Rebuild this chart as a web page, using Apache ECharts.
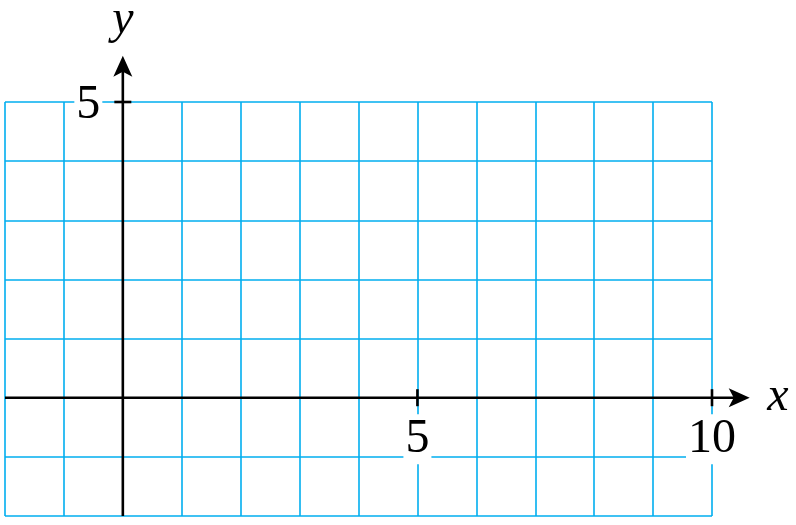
<!DOCTYPE html>
<html>
<head>
<meta charset="utf-8">
<style>html,body{margin:0;padding:0;background:#fff;}#c{width:796px;height:525px;}</style>
<script src="https://cdn.jsdelivr.net/npm/echarts@6/dist/echarts.min.js"></script>
</head>
<body>
<div id="c"></div>
<script>
// Axis ranges
const xRange = [-2, 10];
const yRange = [-2, 5];
// Drawn axes: start point and arrow tip (beyond the grid)
const axisStarts = [[-2, 0], [0, -2]];
const axisTips = [[10.64, 0], [0, 5.78]];
// Axis names
const axisNameText = ['x', 'y'];
const axisNamePos = [[11.12, 0], [0, 6.38]];
// Labelled tick values
const xTickValues = [5, 10];
const yTickValues = [5];

const gridColor = '#00aeef';
const serif = 'Liberation Serif';

const chart = echarts.init(document.getElementById('c'), null, {renderer: 'canvas'});
const labelBase = {
  show: true,
  color: '#000',
  fontFamily: serif,
  fontSize: 48,
  lineHeight: 50,
  backgroundColor: '#fff',
  padding: [0, 2, 0, 2]
};

function renderAxis(params, api) {
  const p0 = api.coord([api.value(0), api.value(1)]);
  const p1 = api.coord([api.value(2), api.value(3)]);
  const dx = p1[0] - p0[0], dy = p1[1] - p0[1];
  const len = Math.sqrt(dx * dx + dy * dy);
  const ux = dx / len, uy = dy / len;      // direction
  const nx = -uy, ny = ux;                 // normal
  const L = 21, W = 9.5, notch = 5;
  const back = [p1[0] - ux * L, p1[1] - uy * L];
  const mid = [p1[0] - ux * (L - notch), p1[1] - uy * (L - notch)];
  return {
    type: 'group',
    children: [
      {type: 'line', shape: {x1: p0[0], y1: p0[1], x2: mid[0] + ux * 2, y2: mid[1] + uy * 2},
       style: {stroke: '#000', lineWidth: 2.6}},
      {type: 'polygon', shape: {points: [
        p1,
        [back[0] + nx * W, back[1] + ny * W],
        mid,
        [back[0] - nx * W, back[1] - ny * W]
      ]}, style: {fill: '#000'}}
    ]
  };
}

chart.setOption({
  animation: false,
  backgroundColor: '#fff',
  grid: {left: 5, right: 84, top: 102, bottom: 9, containLabel: false},
  xAxis: {
    type: 'value', min: xRange[0], max: xRange[1], interval: 1,
    axisLine: {show: false}, axisTick: {show: false}, axisLabel: {show: false},
    splitLine: {show: true, lineStyle: {color: gridColor, width: 1.6}}
  },
  yAxis: {
    type: 'value', min: yRange[0], max: yRange[1], interval: 1,
    axisLine: {show: false}, axisTick: {show: false}, axisLabel: {show: false},
    splitLine: {show: true, lineStyle: {color: gridColor, width: 1.6}}
  },
  series: [
    {
      type: 'custom', clip: false, silent: true, z: 4,
      renderItem: renderAxis,
      data: axisStarts.map((s, i) => [s[0], s[1], axisTips[i][0], axisTips[i][1]])
    },
    {
      type: 'scatter', clip: false, silent: true, z: 5,
      symbolSize: 1,
      itemStyle: {color: '#fff', opacity: 1},
      data: axisNamePos.map((a, i) => ({value: a, name: axisNameText[i]})),
      label: {show: true, position: 'inside', formatter: p => p.name, fontFamily: serif, fontStyle: 'italic',
              fontSize: 48, color: '#000', textBorderWidth: 0, opacity: 1}
    },
    {
      type: 'scatter', clip: false, silent: true, z: 5,
      symbol: 'rect', symbolSize: [2.6, 17],
      itemStyle: {color: '#000', opacity: 1},
      data: xTickValues.map(v => [v, 0]),
      label: Object.assign({}, labelBase, {position: 'bottom', distance: 8, formatter: p => String(p.value[0])})
    },
    {
      type: 'scatter', clip: false, silent: true, z: 5,
      symbol: 'rect', symbolSize: [17, 2.6],
      itemStyle: {color: '#000', opacity: 1},
      data: yTickValues.map(v => [0, v]),
      label: Object.assign({}, labelBase, {position: 'left', distance: 12, offset: [0, 3], formatter: p => String(p.value[1])})
    }
  ]
});
</script>
</body>
</html>
